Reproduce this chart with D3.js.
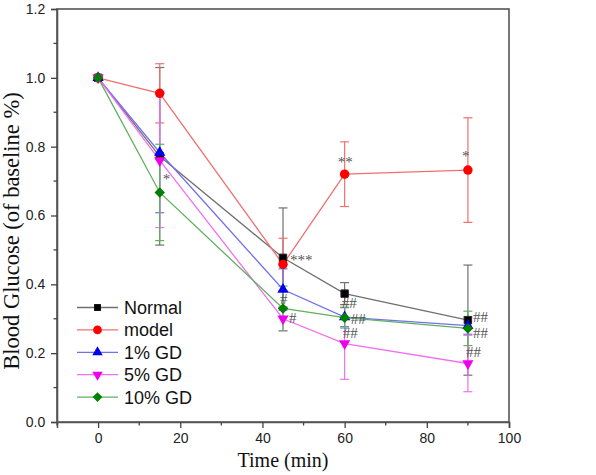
<!DOCTYPE html>
<html><head><meta charset="utf-8">
<script src="https://cdn.jsdelivr.net/npm/d3@7"></script>
<style>body{margin:0;background:#fff}</style>
</head><body>
<svg id="c" width="596" height="475"></svg>
<script>
const times = [0, 15, 45, 60, 90];
const seriesNames = ["Normal", "model", "1% GD", "5% GD", "10% GD"];
const normalVals = [1.0, 0.772, 0.477, 0.373, 0.296];
const normalErr  = [0, 0.258, 0.145, 0.032, 0.16];
const modelVals  = [1.0, 0.955, 0.458, 0.72, 0.732];
const modelErr   = [0, 0.086, 0.076, 0.094, 0.152];
const gd1Vals    = [1.0, 0.783, 0.385, 0.305, 0.28];
const gd1Err     = [0, 0.175, 0.06, 0.028, 0.025];
const gd5Vals    = [1.0, 0.76, 0.30, 0.228, 0.17];
const gd5Err     = [0, 0.195, 0.035, 0.104, 0.082];
const gd10Vals   = [1.0, 0.667, 0.33, 0.303, 0.272];
const gd10Err    = [0, 0.14, 0.065, 0.03, 0.05];
const xTicks = [0, 20, 40, 60, 80, 100];
const yTicks = [0.0, 0.2, 0.4, 0.6, 0.8, 1.0, 1.2];
// annotations: [time, value, text, series index, dx, dy]
const annotations = [
  [15, 0.667, "*", 4, 3, -8],
  [45, 0.477, "***", 0, 7, 7],
  [60, 0.72, "**", 1, -7, -7],
  [90, 0.732, "*", 1, -6, -9],
  [45, 0.33, "#", 4, -3, -4],
  [45, 0.30, "#", 3, 6, 4],
  [60, 0.303, "##", 4, -3, -10],
  [60, 0.303, "##", 4, 6, 6],
  [60, 0.228, "##", 3, -2, -6],
  [90, 0.296, "##", 0, 5, 2],
  [90, 0.272, "##", 4, 5, 10],
  [90, 0.17, "##", 3, -2, -6]
];

const lineColors = ["#707070", "#f07070", "#7070f0", "#f070f0", "#60b060"];
const markColors = ["#000000", "#ff0000", "#0000ee", "#ee00ee", "#008000"];
const symbols = [d3.symbolSquare, d3.symbolCircle, d3.symbolTriangle, "tri-down", "diamond"];
const sizes = [55, 70, 55, 55, 55];

const vals = [normalVals, modelVals, gd1Vals, gd5Vals, gd10Vals];
const errs = [normalErr, modelErr, gd1Err, gd5Err, gd10Err];

const svg = d3.select("#c");
const L = 57, R = 509, T = 9, B = 422;
const x = d3.scaleLinear().domain([-10, 100]).range([L, R]);
const y = d3.scaleLinear().domain([0, 1.2]).range([B, T]);

function markerPath(i, size) {
  if (symbols[i] === "tri-down") return d3.symbol(d3.symbolTriangle, size)();
  if (symbols[i] === "diamond") return d3.symbol(d3.symbolSquare, size)();
  return d3.symbol(symbols[i], size)();
}
function markerRot(i) {
  if (symbols[i] === "tri-down") return " rotate(180)";
  if (symbols[i] === "diamond") return " rotate(45)";
  return "";
}

// frame
svg.append("rect").attr("x", L).attr("y", T).attr("width", R - L).attr("height", B - T)
  .attr("fill", "none").attr("stroke", "#555").attr("stroke-width", 1.6);

// axes
const xAxis = d3.axisBottom(x).tickValues(xTicks).tickSize(6).tickFormat(d3.format("d"));
const gx = svg.append("g").attr("transform", `translate(0,${B})`).call(xAxis);
const xMinor = d3.range(-10, 101, 10).filter(v => !xTicks.includes(v));
gx.selectAll(".minor").data(xMinor).enter().append("line")
  .attr("x1", d => x(d)).attr("x2", d => x(d)).attr("y1", 0).attr("y2", 3.5).attr("stroke", "#444").attr("stroke-width", 1.3);
const yAxis = d3.axisLeft(y).tickValues(yTicks).tickSize(6).tickFormat(d3.format(".1f"));
const gy = svg.append("g").attr("transform", `translate(${L},0)`).call(yAxis);
const yMinor = d3.range(0.1, 1.2, 0.2);
gy.selectAll(".minor").data(yMinor).enter().append("line")
  .attr("y1", d => y(d)).attr("y2", d => y(d)).attr("x1", 0).attr("x2", -3.5).attr("stroke", "#444").attr("stroke-width", 1.3);
[gx, gy].forEach(g => {
  g.select(".domain").attr("stroke", "#555").attr("stroke-width", 1.6);
  g.selectAll(".tick line").attr("stroke", "#444").attr("stroke-width", 1.3);
  g.selectAll(".tick text").attr("font-family", "Arial, 'Liberation Sans', sans-serif").attr("font-size", 14).attr("fill", "#222");
});
gx.selectAll(".tick text").attr("dy", "0.85em");
gy.selectAll(".tick text").attr("dx", "-0.2em");

// axis labels
svg.append("text").attr("x", (L + R) / 2).attr("y", 467).attr("text-anchor", "middle")
  .attr("font-family", "'Liberation Serif', 'Times New Roman', serif").attr("font-size", 20).attr("fill", "#111")
  .text("Time (min)");
svg.append("text").attr("transform", `translate(19,231) rotate(-90)`).attr("text-anchor", "middle")
  .attr("font-family", "'Liberation Serif', 'Times New Roman', serif").attr("font-size", 22.5).attr("fill", "#111")
  .text("Blood Glucose (of baseline %)");

// error bars
vals.forEach((v, i) => {
  const g = svg.append("g");
  times.forEach((t, k) => {
    const e = errs[i][k];
    if (!e) return;
    const cx = x(t), y1 = y(v[k] + e), y2 = y(v[k] - e);
    g.append("line").attr("x1", cx).attr("x2", cx).attr("y1", y1).attr("y2", y2).attr("stroke", lineColors[i]).attr("stroke-width", 1.2);
    [y1, y2].forEach(yy => g.append("line").attr("x1", cx - 4.5).attr("x2", cx + 4.5).attr("y1", yy).attr("y2", yy).attr("stroke", lineColors[i]).attr("stroke-width", 1.2));
  });
});

// lines
const line = d3.line().x((d, k) => x(times[k])).y(d => y(d));
vals.forEach((v, i) => {
  svg.append("path").attr("d", line(v)).attr("fill", "none").attr("stroke", lineColors[i]).attr("stroke-width", 1.3);
});

// markers
vals.forEach((v, i) => {
  svg.append("g").selectAll("path").data(v).enter().append("path")
    .attr("d", markerPath(i, sizes[i]))
    .attr("transform", (d, k) => `translate(${x(times[k])},${y(d)})` + markerRot(i))
    .attr("fill", markColors[i]).attr("stroke", i === 0 ? "#223" : "none").attr("stroke-width", 1);
});

// annotations
annotations.forEach(a => {
  svg.append("text").attr("x", x(a[0]) + a[4]).attr("y", y(a[1]) + a[5])
    .attr("font-family", "'Liberation Serif', 'Times New Roman', serif").attr("font-size", 15).attr("fill", "#555")
    .text(a[2]);
});

// legend
const lg = svg.append("g");
seriesNames.forEach((n, i) => {
  const yy = 307.5 + i * 22.4;
  lg.append("line").attr("x1", 77).attr("x2", 118).attr("y1", yy).attr("y2", yy).attr("stroke", lineColors[i]).attr("stroke-width", 1.3);
  lg.append("path").attr("d", markerPath(i, sizes[i] * 0.85))
    .attr("transform", `translate(97.5,${yy})` + markerRot(i))
    .attr("fill", markColors[i]);
  lg.append("text").attr("x", 124).attr("y", yy + 6.5)
    .attr("font-family", "Arial, 'Liberation Sans', sans-serif").attr("font-size", 18).attr("fill", "#111")
    .text(n);
});
</script>
</body></html>
